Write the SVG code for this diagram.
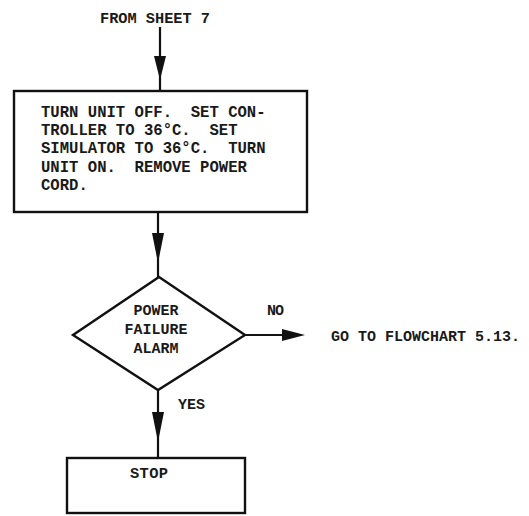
<svg xmlns="http://www.w3.org/2000/svg" width="529" height="516" viewBox="0 0 529 516">
<style>
.t{font-family:"Liberation Mono","DejaVu Sans Mono",monospace;font-weight:bold;fill:#1a1a1a;white-space:pre}
.b{fill:#fff;stroke:#111;stroke-width:2.4}
.c{stroke:#111;stroke-width:2.2;fill:none}
.h{fill:#111;stroke:none}
</style>
<rect width="529" height="516" fill="#fff"/>
<g id="start">
<text class="t" x="100" y="23" font-size="15.3" textLength="110">FROM SHEET 7</text>
</g>
<g id="process">
<rect class="b" x="14" y="91" width="293" height="121"/>
<text class="t" font-size="15.6" xml:space="preserve"><tspan x="41" y="117">TURN UNIT OFF.  SET CON-</tspan><tspan x="41" y="135">TROLLER TO 36°C.  SET</tspan><tspan x="41" y="153">SIMULATOR TO 36°C.  TURN</tspan><tspan x="41" y="172">UNIT ON.  REMOVE POWER</tspan><tspan x="41" y="190">CORD.</tspan></text>
</g>
<g id="decision">
<polygon class="b" points="159,277 245,335 158,390 73,335"/>
<text class="t" font-size="15" text-anchor="middle"><tspan x="156" y="315">POWER</tspan><tspan x="156" y="334">FAILURE</tspan><tspan x="156" y="353">ALARM</tspan></text>
</g>
<g id="goto">
<text class="t" x="331" y="341" font-size="15" textLength="189" xml:space="preserve">GO TO FLOWCHART 5.13.</text>
</g>
<g id="stop">
<rect class="b" x="67" y="458" width="178" height="55"/>
<text class="t" x="130" y="478" font-size="15.4" textLength="38">STOP</text>
</g>
<g id="connectors">
<line class="c" x1="160" y1="27" x2="160" y2="91"/>
<polygon class="h" points="154,56 166,56 160,80"/>
<line class="c" x1="158" y1="212" x2="158" y2="277"/>
<polygon class="h" points="152,233 164,233 158,263"/>
<line class="c" x1="245" y1="335" x2="300" y2="335"/>
<polygon class="h" points="282,329 282,341 305,335"/>
<line class="c" x1="158" y1="390" x2="158" y2="458"/>
<polygon class="h" points="152,412 164,412 158,442"/>
<text class="t" x="267" y="315" font-size="15" textLength="17">NO</text>
<text class="t" x="178" y="409" font-size="15" textLength="27">YES</text>
</g>
</svg>
